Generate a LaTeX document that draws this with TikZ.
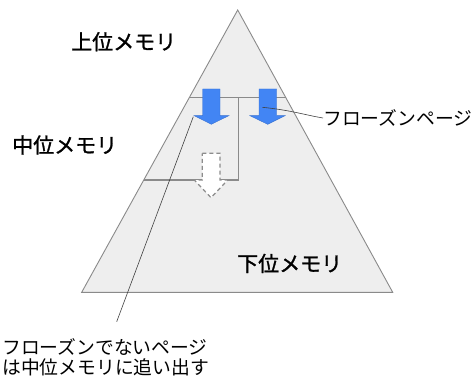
\documentclass[tikz,border=0pt]{standalone}
\usepackage{fontspec}
\newfontfamily\cjk{Noto Sans CJK JP}
\newfontfamily\cjkb[FakeBold=1.2]{Noto Sans CJK JP}
\definecolor{tri}{HTML}{EEEEEE}
\definecolor{edge}{HTML}{8A8A8A}
\definecolor{blu}{HTML}{4285F4}
\begin{document}
\begin{tikzpicture}[x=1pt,y=-1pt,
  lvl/.style={font=\cjkb\fontsize{21}{25}\selectfont, inner sep=0pt},
  call/.style={font=\cjk\fontsize{18.8}{22}\selectfont, inner sep=0pt},
  band/.style={draw=edge, line width=1.3pt},
  callline/.style={draw=black!75, line width=0.6pt},
  pagearrow/.style={fill=blu, draw=blu!85!black, line width=0.4pt}]
\useasboundingbox (0,0) rectangle (476,377);
% pyramid
\coordinate (apex) at (237.7,10);
\coordinate (bl) at (81.7,292.3);
\coordinate (br) at (392.7,292.3);
\fill[tri] (apex) -- (bl) -- (br) -- cycle;
% bands
\coordinate (ul) at (189.2,97.7);
\coordinate (ur) at (286.2,97.7);
\coordinate (vt) at (238.3,97.7);
\coordinate (vb) at (238.3,180);
\coordinate (ml) at (143.8,180);
\draw[band] (ul) -- (ur);
\draw[band] (vt) -- (vb) -- (ml);
\draw[edge, line width=0.9pt] (apex) -- (bl) -- (br) -- cycle;
% blue arrows
\path[pagearrow] (202.7,89) -- (220,89) -- (220,115.7) -- (228.7,115.7) -- (211.3,124.3) -- (194.3,115.7) -- (202.7,115.7) -- cycle;
\path[pagearrow] (259,89) -- (276.7,89) -- (276.7,115.7) -- (285,115.7) -- (267.7,124.3) -- (250,115.7) -- (259,115.7) -- cycle;
% dashed arrow
\draw[fill=white, draw=black!45, line width=1.2pt, dash pattern=on 4pt off 3pt] (202.3,153.3) -- (220,153.3) -- (220,180) -- (227.7,180) -- (211,197.7) -- (194.3,180) -- (202.3,180) -- cycle;
% labels
\node[lvl, anchor=west] (upper) at (71,41.7) {上位メモリ};
\node[lvl, anchor=west] (middle) at (12,145) {中位メモリ};
\node[lvl, anchor=west] (lower) at (237,263.5) {下位メモリ};
% callouts
\node[call, anchor=west] (frozen) at (323,118) {フローズンページ};
\node[call, anchor=north west, align=left, font=\cjk\fontsize{18.8}{19.5}\selectfont] (nonfrozen) at (2,338.5) {フローズンでないページ\\は中位メモリに追い出す};
\coordinate (fz) at (262.3,107.3);
\coordinate (nf) at (193.3,116.7);
\coordinate (nfe) at (116.7,321.7);
\draw[callline] (fz) .. controls (290,110) and (305,115) .. (frozen.west);
\draw[callline] (nf) -- (nfe);
\end{tikzpicture}
\end{document}
